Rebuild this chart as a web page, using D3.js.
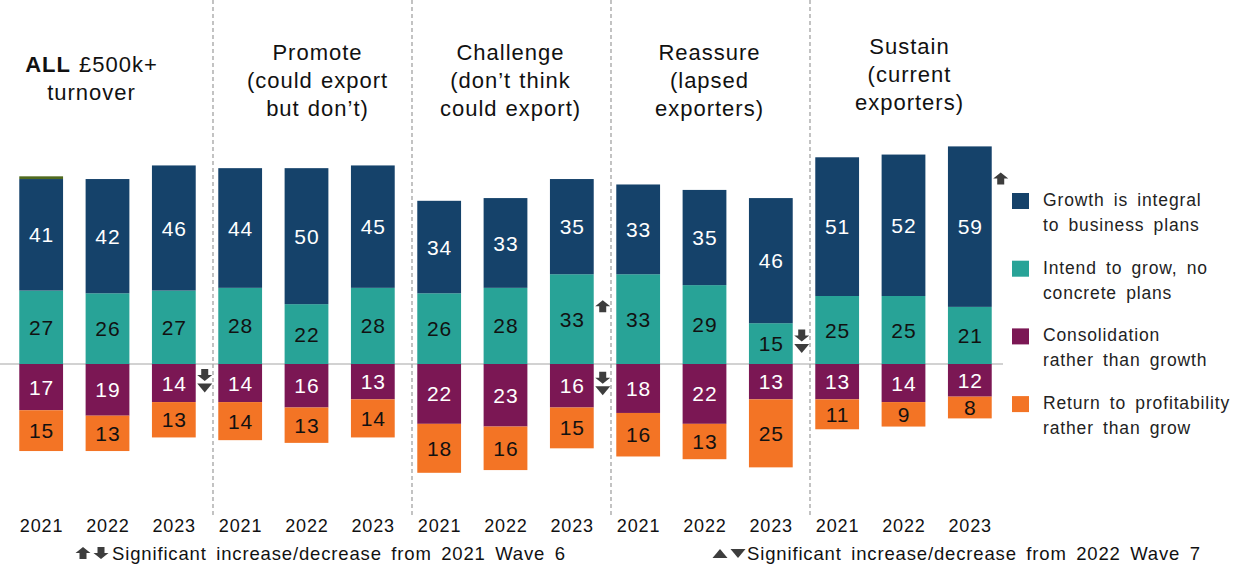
<!DOCTYPE html>
<html>
<head>
<meta charset="utf-8">
<script src="https://cdn.jsdelivr.net/npm/d3@7"></script>
<style>
  html, body { margin: 0; padding: 0; background: #fff; }
  svg { display: block; font-family: "Liberation Sans", Arial, sans-serif; }
  svg text { letter-spacing: 0.85px; word-spacing: 3.5px; }
  svg text.title { letter-spacing: 1px; word-spacing: 1px; }
</style>
</head>
<body>
<svg id="chart" width="1235" height="565"></svg>
<script>
// Segments of the business population, three survey years each
const groups = [
  { key: "all", lines: [["ALL", " £500k+"], ["turnover"]] },
  { key: "promote", lines: [["Promote"], ["(could export"], ["but don’t)"]] },
  { key: "challenge", lines: [["Challenge"], ["(don’t think"], ["could export)"]] },
  { key: "reassure", lines: [["Reassure"], ["(lapsed"], ["exporters)"]] },
  { key: "sustain", lines: [["Sustain"], ["(current"], ["exporters)"]] }
];
const years = ["2021", "2022", "2023"];

// Values in bar order (group by group, 2021 → 2023)
const growthIntegral = [41, 42, 46, 44, 50, 45, 34, 33, 35, 33, 35, 46, 51, 52, 59];
const intendToGrow   = [27, 26, 27, 28, 22, 28, 26, 28, 33, 33, 29, 15, 25, 25, 21];
const consolidation  = [17, 19, 14, 14, 16, 13, 22, 23, 16, 18, 22, 13, 13, 14, 12];
const returnProfit   = [15, 13, 13, 14, 13, 14, 18, 16, 15, 16, 13, 25, 11, 9, 8];
const otherResponse  = [1, 0, 0, 0, 0, 0, 0, 0, 0, 0, 0, 0, 0, 0, 0];

const legendLabels = [
  ["Growth is integral", "to business plans"],
  ["Intend to grow, no", "concrete plans"],
  ["Consolidation", "rather than growth"],
  ["Return to profitability", "rather than grow"]
];

// Significance flags: bar index, series, and which comparison(s)
// "w6" = vs 2021 Wave 6 (block arrow), "w7" = vs 2022 Wave 7 (triangle)
const significance = [
  { bar: 2,  series: "consolidation", dir: "down", marks: ["w6", "w7"] },
  { bar: 8,  series: "intend",        dir: "up",   marks: ["w6"] },
  { bar: 8,  series: "consolidation", dir: "down", marks: ["w6", "w7"] },
  { bar: 11, series: "intend",        dir: "down", marks: ["w6", "w7"] },
  { bar: 14, series: "growth",        dir: "up",   marks: ["w6"] }
];

const colors = {
  growth: "#15426a",
  intend: "#28a397",
  consolidation: "#7b1754",
  returnProfit: "#f37425",
  other: "#4f6a1f"
};
const textColors = { growth: "#fff", intend: "#111", consolidation: "#fff", returnProfit: "#111" };

const svg = d3.select("#chart");
const bars = d3.range(growthIntegral.length);

const x = d3.scaleBand().domain(bars).range([8, 1003]).paddingInner(0.34).paddingOuter(0.17);
const y = d3.scaleLinear().domain([-50, 100]).range([364 + 50 * 2.72, 364 - 100 * 2.72]);

// Build stacked segments: positives stack upward, negatives downward
const segments = [];
bars.forEach(i => {
  let up = 0, down = 0;
  [["intend", intendToGrow], ["growth", growthIntegral], ["other", otherResponse]].forEach(([s, arr]) => {
    const v = arr[i];
    segments.push({ bar: i, series: s, v, y0: up, y1: up + v });
    up += v;
  });
  [["consolidation", consolidation], ["returnProfit", returnProfit]].forEach(([s, arr]) => {
    const v = arr[i];
    segments.push({ bar: i, series: s, v, y0: down, y1: down - v });
    down -= v;
  });
});

// Dashed group dividers
const dividerShift = 6;
for (let g = 1; g < groups.length; g++) {
  const left = x(g * 3 - 1) + x.bandwidth();
  const right = x(g * 3);
  const xd = (left + right) / 2 + dividerShift;
  svg.append("line")
    .attr("x1", xd).attr("x2", xd).attr("y1", 0).attr("y2", 516)
    .attr("stroke", "#a3a3a3").attr("stroke-width", 1.3)
    .attr("stroke-dasharray", "4,3");
}

// Zero baseline
svg.append("line")
  .attr("x1", 0).attr("x2", 1003).attr("y1", y(0)).attr("y2", y(0))
  .attr("stroke", "#a6a6a6").attr("stroke-width", 1.2);

// Bars
svg.append("g").selectAll("rect")
  .data(segments.filter(d => d.v > 0))
  .join("rect")
  .attr("x", d => x(d.bar))
  .attr("width", x.bandwidth())
  .attr("y", d => y(Math.max(d.y0, d.y1)))
  .attr("height", d => Math.abs(y(d.y0) - y(d.y1)))
  .attr("fill", d => colors[d.series]);

// Value labels
svg.append("g").selectAll("text")
  .data(segments.filter(d => d.series !== "other"))
  .join("text")
  .attr("x", d => x(d.bar) + x.bandwidth() / 2 + 0.4)
  .attr("y", d => y((d.y0 + d.y1) / 2))
  .attr("dy", "0.36em")
  .attr("text-anchor", "middle")
  .attr("font-size", 21)
  .attr("fill", d => textColors[d.series])
  .text(d => d.v);

// Year labels
svg.append("g").selectAll("text")
  .data(bars)
  .join("text")
  .attr("x", i => x(i) + x.bandwidth() / 2 + 0.4)
  .attr("y", 532)
  .attr("text-anchor", "middle")
  .attr("font-size", 18)
  .attr("fill", "#111")
  .text(i => years[i % 3]);

// Group titles
const titleLayout = {
  all: { dx: -16, top: 72 },
  promote: { dx: 11, top: 60 },
  challenge: { dx: 5, top: 60 },
  reassure: { dx: 5, top: 60 },
  sustain: { dx: 6, top: 54 }
};
groups.forEach((g, gi) => {
  const cx = x(gi * 3 + 1) + x.bandwidth() / 2 + titleLayout[g.key].dx;
  const t = svg.append("text")
    .attr("class", "title")
    .attr("text-anchor", "middle")
    .attr("font-size", 22)
    .attr("fill", "#111");
  g.lines.forEach((parts, li) => {
    const line = t.append("tspan")
      .attr("x", cx)
      .attr("y", titleLayout[g.key].top + li * 28);
    parts.forEach((p, pi) => {
      line.append("tspan")
        .attr("font-weight", g.key === "all" && li === 0 && pi === 0 ? "bold" : null)
        .text(p);
    });
  });
});

// Marker shapes
const markColor = "#3d3d3d";
function blockArrow(cx, cy, dir) {
  // 15 wide, 12 tall block arrow
  const s = dir === "up" ? -1 : 1;
  const p = [
    [cx - 7.5, cy], [cx, cy + s * 6], [cx + 7.5, cy],
    [cx + 3.5, cy], [cx + 3.5, cy - s * 6], [cx - 3.5, cy - s * 6], [cx - 3.5, cy]
  ];
  return "M" + p.map(q => q.join(",")).join("L") + "Z";
}
function triangle(cx, cy, dir) {
  // 15 wide, 9 tall
  const s = dir === "up" ? -1 : 1;
  return `M${cx - 7.5},${cy - s * 4.5}L${cx + 7.5},${cy - s * 4.5}L${cx},${cy + s * 4.5}Z`;
}

const markG = svg.append("g").attr("fill", markColor);
significance.forEach(m => {
  const seg = segments.find(s => s.bar === m.bar && s.series === m.series);
  const cx = x(m.bar) + x.bandwidth() + 9;
  const top = y(Math.max(seg.y0, seg.y1));
  const mid = y((seg.y0 + seg.y1) / 2);
  if (m.dir === "up") {
    markG.append("path").attr("d", blockArrow(cx, top + 32, "up"));
  } else {
    const startY = mid - 14;
    markG.append("path").attr("d", blockArrow(cx, startY + 6, "down"));
    if (m.marks.includes("w7")) {
      markG.append("path").attr("d", triangle(cx, startY + 19, "down"));
    }
  }
});

// Legend
const legendSeries = ["growth", "intend", "consolidation", "returnProfit"];
legendSeries.forEach((s, i) => {
  const top = 193 + i * 67.7;
  svg.append("rect")
    .attr("x", 1012).attr("y", top).attr("width", 17).attr("height", 16)
    .attr("fill", colors[s]);
  const t = svg.append("text").attr("font-size", 17.5).attr("fill", "#222");
  legendLabels[i].forEach((line, li) => {
    t.append("tspan").attr("x", 1043).attr("y", top + 13 + li * 25).text(line);
  });
});

// Footnotes
const noteG = svg.append("g");
noteG.append("path").attr("fill", markColor).attr("d", blockArrow(83, 553, "up"));
noteG.append("path").attr("fill", markColor).attr("d", blockArrow(101, 553, "down"));
noteG.append("text").attr("x", 112).attr("y", 560).attr("font-size", 18.5).attr("fill", "#111")
  .text("Significant increase/decrease from 2021 Wave 6");
noteG.append("path").attr("fill", markColor).attr("d", triangle(720, 553.5, "up"));
noteG.append("path").attr("fill", markColor).attr("d", triangle(738, 553.5, "down"));
noteG.append("text").attr("x", 747).attr("y", 560).attr("font-size", 18.5).attr("fill", "#111")
  .text("Significant increase/decrease from 2022 Wave 7");
</script>
</body>
</html>
